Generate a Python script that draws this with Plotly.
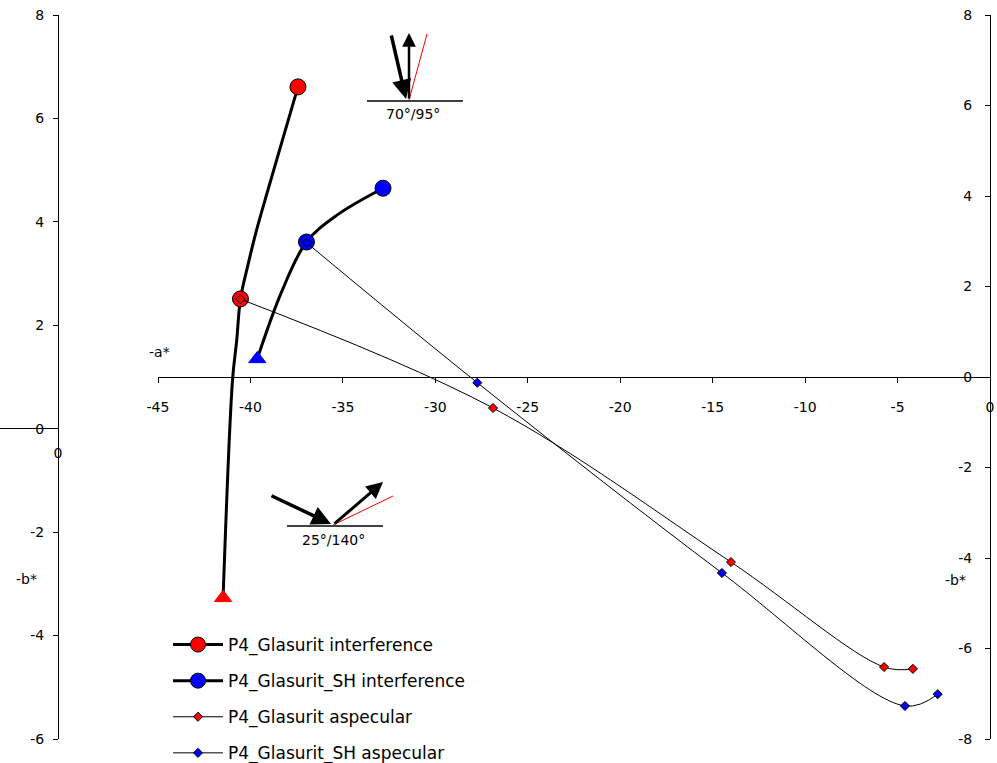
import plotly.graph_objects as go

W, H = 997, 763

# ---------------- data ----------------
x_ticks = [-45, -40, -35, -30, -25, -20, -15, -10, -5, 0]
yl_ticks = [-6, -4, -2, 0, 2, 4, 6, 8]
yr_ticks = [-8, -6, -4, -2, 0, 2, 4, 6, 8]

# interference curves (left -b* axis)
red_int_x = [-37.43, -38.27, -39.05, -39.67, -40.16, -40.54, -40.74, -40.97, -41.48]
red_int_y = [6.61, 5.58, 4.62, 3.84, 3.13, 2.51, 1.72, 0.94, -3.27]
red_int_circles = [0, 5]     # indices with circle markers
red_int_triangle = [8]

blue_int_x = [-32.83, -35.32, -36.97, -38.31, -39.63]
blue_int_y = [4.65, 4.13, 3.61, 2.65, 1.35]
blue_int_circles = [0, 2]
blue_int_triangle = [4]

# aspecular curves (right -b* axis)
red_asp_x = [-40.54, -26.88, -14.01, -5.73, -4.17]
red_asp_y = [1.72, -0.685, -4.09, -6.41, -6.45]
blue_asp_x = [-36.97, -27.73, -14.50, -4.60, -2.83]
blue_asp_y = [2.97, -0.126, -4.33, -7.27, -7.01]

names = ["P4_Glasurit interference", "P4_Glasurit_SH interference",
         "P4_Glasurit aspecular", "P4_Glasurit_SH aspecular"]

RED = "#FF0000"
BLUE = "#0000FF"
FONT = "DejaVu Sans, Arial, sans-serif"


def px(x):
    return x / W


def py(y):
    return 1 - y / H


fig = go.Figure()

# legend entries for interference (dummy)
fig.add_trace(go.Scatter(x=[None], y=[None], mode="lines+markers", name=names[0],
                         legendgroup="a",
                         line=dict(color="black", width=3),
                         marker=dict(symbol="circle", size=15, color=RED,
                                     line=dict(color="black", width=1))))
fig.add_trace(go.Scatter(x=[None], y=[None], mode="lines+markers", name=names[1],
                         legendgroup="b",
                         line=dict(color="black", width=3),
                         marker=dict(symbol="circle", size=15, color=BLUE,
                                     line=dict(color="black", width=1))))

# interference lines
for xs, ys in [(red_int_x, red_int_y), (blue_int_x, blue_int_y)]:
    fig.add_trace(go.Scatter(x=xs, y=ys, mode="lines", showlegend=False,
                             legendgroup="z",
                             line=dict(color="black", width=3, shape="spline", smoothing=1.0),
                             hoverinfo="skip"))

# interference markers
for xs, ys, circ, tri, col in [(red_int_x, red_int_y, red_int_circles, red_int_triangle, RED),
                               (blue_int_x, blue_int_y, blue_int_circles, blue_int_triangle, BLUE)]:
    fig.add_trace(go.Scatter(x=[xs[i] for i in circ], y=[ys[i] for i in circ], mode="markers",
                             showlegend=False, legendgroup="z",
                             marker=dict(symbol="circle", size=16, color=col,
                                         line=dict(color="black", width=1))))
    fig.add_trace(go.Scatter(x=[xs[i] for i in tri], y=[ys[i] for i in tri], mode="markers",
                             showlegend=False, legendgroup="z",
                             marker=dict(symbol="triangle-up", size=15, color=col,
                                         line=dict(color=col, width=1))))

# stub secondary x axis trace (invisible)
fig.add_trace(go.Scatter(x=[None], y=[None], xaxis="x2", yaxis="y", showlegend=False,
                         legendgroup="z"))

# aspecular curves on the right axis
fig.add_trace(go.Scatter(x=red_asp_x, y=red_asp_y, yaxis="y2", mode="lines+markers",
                         name=names[2], legendgroup="c",
                         line=dict(color="black", width=1, shape="spline", smoothing=1.0),
                         marker=dict(symbol="diamond", size=7, color=RED,
                                     line=dict(color="black", width=1))))
fig.add_trace(go.Scatter(x=blue_asp_x, y=blue_asp_y, yaxis="y2", mode="lines+markers",
                         name=names[3], legendgroup="d",
                         line=dict(color="black", width=1, shape="spline", smoothing=1.0),
                         marker=dict(symbol="diamond", size=7, color=BLUE,
                                     line=dict(color="black", width=1))))

tickfont = dict(family=FONT, size=14, color="black")
axis_common = dict(showgrid=False, zeroline=False, showline=True, linecolor="black",
                   linewidth=1, ticks="outside", ticklen=5, tickcolor="black",
                   tickfont=tickfont, automargin=False)


def labels(vals):
    return [str(v) for v in vals]


fig.update_layout(
    width=W, height=H,
    margin=dict(l=0, r=0, t=0, b=0, pad=0, autoexpand=False),
    paper_bgcolor="white", plot_bgcolor="white",
    font=dict(family=FONT, size=14, color="black"),
    xaxis=dict(domain=[px(158), px(990)], range=[-45, 0], anchor="free",
               position=py(377), tickvals=x_ticks, ticktext=labels(x_ticks),
               ticklabelstandoff=12, **axis_common),
    xaxis2=dict(domain=[0, px(58)], range=[-1, 0], anchor="free", position=py(428),
                tickvals=[0], ticktext=["0"], showgrid=False, zeroline=False, showline=True,
                linecolor="black", linewidth=1, ticks="", ticklabelstandoff=12,
                tickfont=tickfont, automargin=False),
    yaxis=dict(domain=[py(739), py(15)], range=[-6, 8], anchor="free", position=px(58),
               tickvals=yl_ticks, ticktext=labels(yl_ticks), ticklabelstandoff=6,
               **axis_common),
    yaxis2=dict(range=[-8, 8], overlaying="y", anchor="free", position=px(990), side="left",
                tickvals=yr_ticks, ticktext=labels(yr_ticks), ticklabelstandoff=10,
                **axis_common),
    showlegend=True,
    legend=dict(x=px(168), y=py(627), xanchor="left", yanchor="top",
                font=dict(family=FONT, size=17, color="black"),
                bgcolor="rgba(0,0,0,0)", tracegroupgap=11, itemwidth=50),
)

# axis titles and sketch labels
ann = [
    dict(x=px(159), y=py(352), text="-a*"),
    dict(x=px(26), y=py(579), text="-b*"),
    dict(x=px(955), y=py(580), text="-b*"),
    dict(x=px(413), y=py(114), text="70°/95°"),
    dict(x=px(333), y=py(540), text="25°/140°"),
]
for a in ann:
    fig.add_annotation(xref="paper", yref="paper", showarrow=False,
                       xanchor="center", yanchor="middle",
                       font=dict(family=FONT, size=14, color="black"), **a)


def arrow(x0, y0, x1, y1, w):
    fig.add_annotation(xref="paper", yref="paper", x=px(x1), y=py(y1),
                       ax=x0 - x1, ay=y0 - y1, axref="pixel", ayref="pixel",
                       text="", showarrow=True, arrowhead=2, arrowsize=1.1,
                       arrowwidth=w, arrowcolor="black", standoff=0, startstandoff=0)


def seg(x0, y0, x1, y1, col, w):
    fig.add_shape(type="line", xref="paper", yref="paper",
                  x0=px(x0), y0=py(y0), x1=px(x1), y1=py(y1),
                  line=dict(color=col, width=w))


# 70/95 geometry sketch
seg(367, 101, 463, 101, "black", 1.5)
seg(409, 100, 427, 34, RED, 1)
arrow(391, 34, 406, 99, 3.5)
arrow(409, 100, 409, 33, 2.5)

# 25/140 geometry sketch
seg(287, 526, 383, 526, "black", 1.5)
seg(333, 525, 393, 496, RED, 1)
arrow(270, 495, 331, 524, 3.5)
arrow(333, 525, 383, 482, 3)

fig.write_html("out.html")
